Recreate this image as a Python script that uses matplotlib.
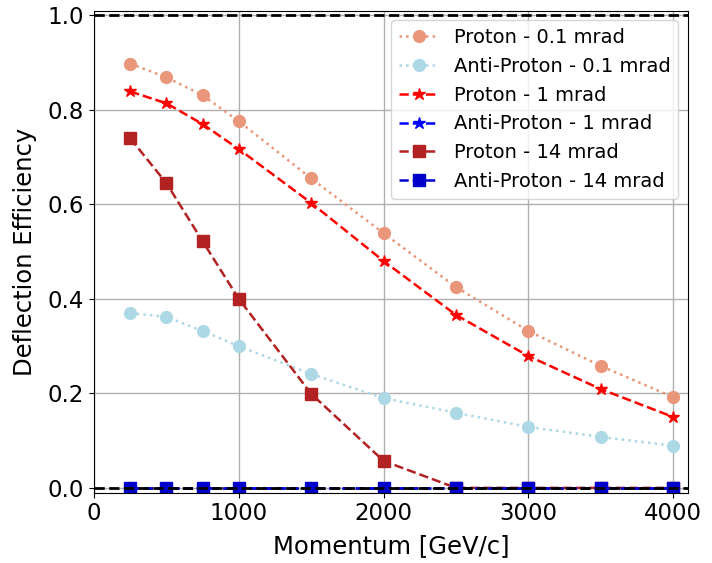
import matplotlib
matplotlib.use("Agg")
import matplotlib.pyplot as plt

momentum = [250, 500, 750, 1000, 1500, 2000, 2500, 3000, 3500, 4000]
proton_01 = [0.898, 0.869, 0.831, 0.776, 0.655, 0.539, 0.425, 0.332, 0.258, 0.192]
antiproton_01 = [0.370, 0.362, 0.332, 0.300, 0.241, 0.190, 0.159, 0.129, 0.108, 0.089]
proton_1 = [0.839, 0.814, 0.770, 0.717, 0.603, 0.480, 0.366, 0.279, 0.209, 0.150]
antiproton_1 = [0, 0, 0, 0, 0, 0, 0, 0, 0, 0]
proton_14 = [0.740, 0.645, 0.522, 0.400, 0.199, 0.057, 0, 0, 0, 0]
antiproton_14 = [0, 0, 0, 0, 0, 0, 0, 0, 0, 0]

labels = ["Proton - 0.1 mrad", "Anti-Proton - 0.1 mrad", "Proton - 1 mrad",
          "Anti-Proton - 1 mrad", "Proton - 14 mrad", "Anti-Proton - 14 mrad"]

fig = plt.figure(figsize=(7.12, 5.63), dpi=100)
ax = fig.add_axes([0.132, 0.125, 0.834, 0.856])

ms = 8.5
lw = 1.8
ax.plot(momentum, proton_01, ':', marker='o', color='darksalmon', ms=ms, lw=lw, label=labels[0])
ax.plot(momentum, antiproton_01, ':', marker='o', color='lightblue', ms=ms, lw=lw, label=labels[1])
ax.plot(momentum, proton_1, '--', marker='*', color='red', ms=ms + 0.5, lw=lw, label=labels[2])
ax.plot(momentum, antiproton_1, '--', marker='*', color='blue', ms=ms + 0.5, lw=lw, label=labels[3])
ax.plot(momentum, proton_14, '--', marker='s', color='firebrick', ms=ms - 0.5, lw=lw, label=labels[4])
ax.plot(momentum, antiproton_14, '--', marker='s', color='mediumblue', ms=ms - 0.5, lw=lw, label=labels[5])

ax.axhline(1.0, color='k', ls='--', lw=2.0)
ax.axhline(0.0, color='k', ls='--', lw=2.0)

ax.set_xlim(0, 4100)
ax.set_ylim(-0.01, 1.01)
ax.set_xticks([0, 1000, 2000, 3000, 4000])
ax.set_yticks([0.0, 0.2, 0.4, 0.6, 0.8, 1.0])
ax.grid(True, color='#b0b0b0', lw=1.0)
ax.tick_params(labelsize=16.5)
ax.set_xlabel("Momentum [GeV/c]", fontsize=17.5, labelpad=6)
ax.set_ylabel("Deflection Efficiency", fontsize=17.5, labelpad=8)
ax.legend(loc='upper right', fontsize=14, handlelength=2.0)

fig.savefig("out.png", dpi=100)
